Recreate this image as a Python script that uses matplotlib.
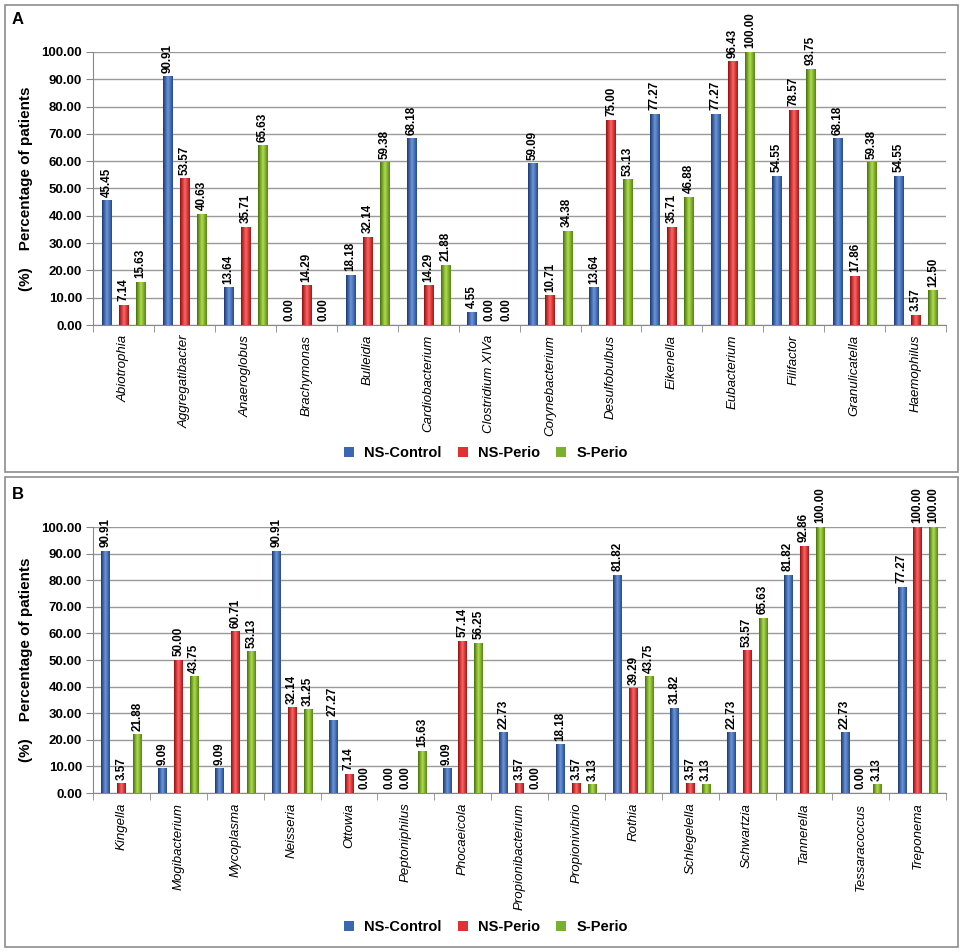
import numpy as np
import matplotlib.pyplot as plt
from matplotlib.colors import LinearSegmentedColormap
from matplotlib.patches import Rectangle

plt.rcParams['font.family'] = ['Liberation Sans', 'DejaVu Sans']

series = ["NS-Control", "NS-Perio", "S-Perio"]

genera_a = ["Abiotrophia", "Aggregatibacter", "Anaeroglobus", "Brachymonas", "Bulleidia",
            "Cardiobacterium", "Clostridium XIVa", "Corynebacterium", "Desulfobulbus",
            "Eikenella", "Eubacterium", "Filifactor", "Granulicatella", "Haemophilus"]
ns_control_a = [45.45, 90.91, 13.64, 0.00, 18.18, 68.18, 4.55, 59.09, 13.64, 77.27, 77.27, 54.55, 68.18, 54.55]
ns_perio_a = [7.14, 53.57, 35.71, 14.29, 32.14, 14.29, 0.00, 10.71, 75.00, 35.71, 96.43, 78.57, 17.86, 3.57]
s_perio_a = [15.63, 40.63, 65.63, 0.00, 59.38, 21.88, 0.00, 34.38, 53.13, 46.88, 100.00, 93.75, 59.38, 12.50]

genera_b = ["Kingella", "Mogibacterium", "Mycoplasma", "Neisseria", "Ottowia", "Peptoniphilus",
            "Phocaeicola", "Propionibacterium", "Propionivibrio", "Rothia", "Schlegelella",
            "Schwartzia", "Tannerella", "Tessaracoccus", "Treponema"]
ns_control_b = [90.91, 9.09, 9.09, 90.91, 27.27, 0.00, 9.09, 22.73, 18.18, 81.82, 31.82, 22.73, 81.82, 22.73, 77.27]
ns_perio_b = [3.57, 50.00, 60.71, 32.14, 7.14, 0.00, 57.14, 3.57, 3.57, 39.29, 3.57, 53.57, 92.86, 0.00, 100.00]
s_perio_b = [21.88, 43.75, 53.13, 31.25, 0.00, 15.63, 56.25, 0.00, 3.13, 43.75, 3.13, 65.63, 100.00, 3.13, 100.00]

# dark edge -> light middle -> dark edge, one per series
shades = [("#1d3a72", "#6a96dc", "#284c8c"),
          ("#941010", "#ff6464", "#ac1616"),
          ("#46740e", "#b0dc4c", "#568816")]
face = ["#3a66b2", "#e03232", "#7ab030"]


def panel(fig, rect, genera, values, legend_y):
    ax = fig.add_axes(rect)
    x = np.arange(len(genera))
    offs = [-0.28, 0.0, 0.28]
    w = 0.15
    grad = np.linspace(0, 1, 32).reshape(1, -1)
    for k, vals in enumerate(values):
        bars = ax.bar(x + offs[k], vals, w, color=face[k], label=series[k], zorder=2)
        cmap = LinearSegmentedColormap.from_list("c%d" % k, list(shades[k]))
        for b, v in zip(bars, vals):
            if v > 0:
                ax.imshow(grad, cmap=cmap, aspect="auto", zorder=3,
                          extent=(b.get_x(), b.get_x() + w, 0, v))
            ax.text(b.get_x() + w / 2, v + 1.5, "%.2f" % v, rotation=90,
                    ha="center", va="bottom", fontsize=8.4, fontweight="bold")
    ax.set_xlim(-0.5, len(genera) - 0.5)
    ax.set_ylim(0, 100)
    ax.set_yticks(np.arange(0, 101, 10))
    ax.set_yticklabels(["%.2f" % t for t in np.arange(0, 101, 10)],
                       fontsize=9.5, fontweight="bold")
    ax.yaxis.grid(True, color="#9a9a9a", lw=1.0, zorder=0)
    ax.set_axisbelow(True)
    ax.set_xticks(x)
    ax.set_xticklabels(genera, rotation=90, style="italic", fontsize=9.5)
    ax.tick_params(axis="x", length=0, pad=7)
    ax.set_xticks(np.arange(-0.5, len(genera)), minor=True)
    ax.tick_params(axis="x", which="minor", length=5, color="#888888")
    ax.tick_params(axis="y", length=5, color="#888888", pad=3)
    for s in ["top", "right"]:
        ax.spines[s].set_visible(False)
    ax.spines["left"].set_color("#888888")
    ax.spines["bottom"].set_color("#888888")
    ax.set_ylabel("(%)    Percentage of patients", fontsize=11, fontweight="bold", labelpad=6)
    h, l = ax.get_legend_handles_labels()
    fig.legend(h, l, loc="center", bbox_to_anchor=(0.504, legend_y), ncol=3, frameon=False,
               prop={"weight": "bold", "size": 10.5}, handlelength=0.7, handleheight=0.7,
               columnspacing=1.1, handletextpad=0.7)
    return ax


fig = plt.figure(figsize=(9.64, 9.52), dpi=100)

# panel frames
fig.patches.append(Rectangle((5 / 964, 1 - 472 / 952), 953 / 964, 467 / 952, transform=fig.transFigure,
                             fill=False, ec="#8c8c8c", lw=1.2))
fig.patches.append(Rectangle((5 / 964, 1 - 947 / 952), 953 / 964, 470 / 952, transform=fig.transFigure,
                             fill=False, ec="#8c8c8c", lw=1.2))
fig.text(12 / 964, 1 - 20 / 952, "A", fontsize=12, fontweight="bold", va="center")
fig.text(12 / 964, 1 - 494 / 952, "B", fontsize=12, fontweight="bold", va="center")

panel(fig, [0.0965, 0.6586, 0.885, 0.2868], genera_a,
      [ns_control_a, ns_perio_a, s_perio_a], 0.524)
panel(fig, [0.0965, 0.167, 0.885, 0.2794], genera_b,
      [ns_control_b, ns_perio_b, s_perio_b], 0.026)

plt.savefig("out.png", dpi=100)
